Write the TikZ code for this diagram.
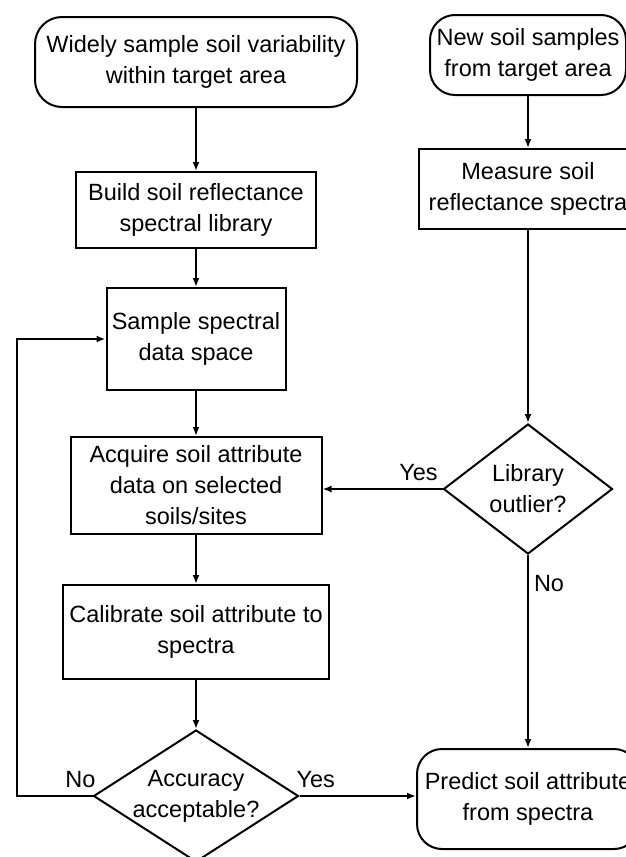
\documentclass[tikz,border=0pt]{standalone}
\usepackage{fontspec}
\setmainfont{Liberation Sans}
\usetikzlibrary{shapes.geometric,arrows.meta,positioning}

\begin{document}
\begin{tikzpicture}[
    x=1pt, y=-1pt,
    font=\fontsize{23.5}{31}\selectfont,
    box/.style={rectangle, draw, line width=2pt, inner sep=3pt, align=center},
    terminal/.style={box, rounded corners=27pt},
    decision/.style={diamond, draw, line width=2pt, inner sep=-3pt, align=center},
    flow/.style={line width=2pt, -{Latex[length=9pt,width=7pt]}}
]
    \clip (0,0) rectangle (626,857);

    % left column
    \node[terminal, minimum width=322pt, minimum height=90pt] (sample) at (196,62) {Widely sample soil variability\\within target area};
    \node[box, minimum width=240pt, minimum height=76pt, below=63pt of sample] (library) {Build soil reflectance\\spectral library};
    \node[box, minimum width=179pt, minimum height=102pt, below=38pt of library] (space) {Sample spectral\\data space};
    \node[box, minimum width=251pt, minimum height=97pt, below=45pt of space] (acquire) {Acquire soil attribute\\data on selected\\soils/sites};
    \node[box, minimum width=266pt, minimum height=94pt, below=49pt of acquire] (calibrate) {Calibrate soil attribute to\\spectra};
    \node[decision, minimum width=205pt, minimum height=132pt, aspect=1.55, below=49pt of calibrate] (accuracy) {Accuracy\\acceptable?};

    % right column
    \node[terminal, rounded corners=25pt, minimum width=196pt, minimum height=80pt] (newsoil) at (528,55) {New soil samples\\from target area};
    \node[box, minimum width=218pt, minimum height=80pt, below=52pt of newsoil] (measure) {Measure soil\\reflectance spectra};
    \node[decision, minimum width=169pt, minimum height=130pt, aspect=1.3, below=193pt of measure] (outlier) {Library\\outlier?};
    \node[terminal, rounded corners=25pt, minimum width=222pt, minimum height=100pt, below=193pt of outlier] (predict) {Predict soil attribute\\from spectra};

    \draw[flow] (sample) -- (library);
    \draw[flow] (library) -- (space);
    \draw[flow] (space) -- (acquire);
    \draw[flow] (acquire) -- (calibrate);
    \draw[flow] (calibrate) -- (accuracy);
    \draw[flow] (newsoil) -- (measure);
    \draw[flow] (measure) -- (outlier);
    \draw[flow] (outlier.west) -- node[above, pos=0.2, yshift=4pt] {Yes} (outlier.west -| acquire.east);
    \draw[flow] (outlier.south) -- node[right, pos=0.15, inner sep=5pt] {No} (predict.north);
    \draw[flow] (accuracy.east) -- node[above, pos=0.14, yshift=4pt] {Yes} (accuracy.east -| predict.west);
    \draw[flow] (accuracy.west) -- node[above, pos=0.16, yshift=4pt] {No} ++(-76,0) |- (space.west);
\end{tikzpicture}
\end{document}
